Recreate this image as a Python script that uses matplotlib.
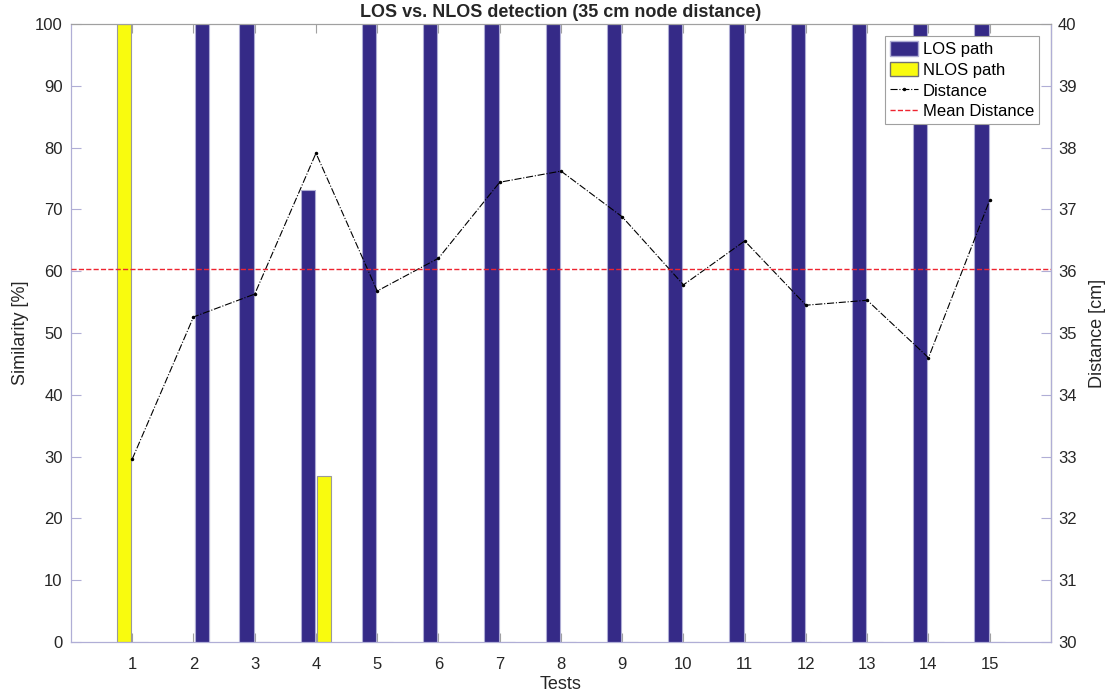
import numpy as np
import matplotlib
matplotlib.use("Agg")
import matplotlib.pyplot as plt
from matplotlib.patches import Patch
from matplotlib.lines import Line2D

plt.rcParams["font.family"] = ["Liberation Sans", "DejaVu Sans"]

# Datos
tests = np.arange(1, 16)
los = [0, 100, 100, 73.2, 100, 100, 100, 100, 100, 100, 100, 100, 100, 100, 100]
nlos = [100, 60, 0, 26.8, 0, 0, 0, 0, 0, 0, 0, 0, 0, 0, 0]
# lado de cada barra respecto al tick (-1 izquierda, +1 derecha)
los_side = [1, 1, -1, -1, -1, -1, -1, -1, -1, -1, -1, -1, -1, -1, -1]
nlos_side = [-1, 1, 1, 1, 1, 1, 1, 1, 1, 1, 1, 1, 1, 1, 1]
distance = [32.96, 35.26, 35.63, 37.91, 35.68, 36.21, 37.44, 37.62,
            36.88, 35.78, 36.49, 35.45, 35.53, 34.60, 37.15]
mean_dist = np.mean(distance)

C_LOS = "#352a87"
C_NLOS = "#f9fb0e"
AX_COL = "#b0aed6"
TXT = "#262626"

off = 0.135
w = 0.235

fig = plt.figure(figsize=(11.09, 6.98), dpi=100)
ax = fig.add_axes([0.064, 0.0802, 0.8837, 0.8854])

x_los = tests + off * np.array(los_side)
x_nlos = tests + off * np.array(nlos_side)
ax.bar(x_nlos, nlos, width=w, color=C_NLOS, edgecolor="#9a9a9a", linewidth=0.8, zorder=2)
ax.bar(x_los, los, width=w, color=C_LOS, edgecolor="#aeacd4", linewidth=0.8, zorder=3)

ax.set_xlim(0, 16)
ax.set_ylim(0, 100)
ax.set_xticks(tests)
ax.set_yticks(np.arange(0, 101, 10))
ax.set_xlabel("Tests", fontsize=13, color=TXT, labelpad=3)
ax.set_ylabel("Similarity [%]", fontsize=13, color=TXT, labelpad=4)
ax.set_title("LOS vs. NLOS detection (35 cm node distance)", fontsize=13,
             fontweight="bold", color=TXT, pad=5)
ax.tick_params(axis="both", direction="in", labelsize=12, labelcolor=TXT)
ax.tick_params(axis="x", colors="#a0a0a0", labelcolor=TXT, top=True, length=6.5, pad=11)
ax.tick_params(axis="y", colors=AX_COL, labelcolor=TXT, length=7, pad=6)
ax.spines["left"].set_color(AX_COL)
ax.spines["bottom"].set_color(AX_COL)
ax.spines["top"].set_color("#a0a0a0")

ax2 = ax.twinx()
ax2.plot(tests, distance, color="black", linestyle="-.", linewidth=0.8,
         marker=".", markersize=3, zorder=4)
ax2.axhline(mean_dist, color="#ee2430", linestyle="--", linewidth=1.0, zorder=4)
ax2.set_ylim(30, 40)
ax2.set_yticks(np.arange(30, 41, 1))
ax2.set_ylabel("Distance [cm]", fontsize=13, color=TXT, labelpad=9)
ax2.tick_params(axis="y", direction="in", colors=AX_COL, labelcolor=TXT,
                labelsize=12, length=7, pad=5)
ax2.spines["right"].set_color(AX_COL)
ax2.spines["left"].set_color(AX_COL)
ax2.spines["bottom"].set_color(AX_COL)
ax2.spines["top"].set_color("#a0a0a0")

handles = [
    Patch(facecolor=C_LOS, edgecolor="#aeacd4", label="LOS path"),
    Patch(facecolor=C_NLOS, edgecolor="#707070", label="NLOS path"),
    Line2D([], [], color="black", linestyle="-.", linewidth=0.8, marker=".",
           markersize=3, label="Distance"),
    Line2D([], [], color="#ee2430", linestyle="--", linewidth=1.0, label="Mean Distance"),
]
leg = ax2.legend(handles=handles, loc="upper right", fontsize=12, frameon=True,
                 fancybox=False, edgecolor="#a0a0a0", framealpha=1,
                 borderpad=0.3, labelspacing=0.28, handlelength=1.7,
                 handleheight=1.0, handletextpad=0.3, borderaxespad=0.7)
leg.get_frame().set_linewidth(0.8)
leg.set_zorder(10)

fig.savefig("out.png", dpi=100)
